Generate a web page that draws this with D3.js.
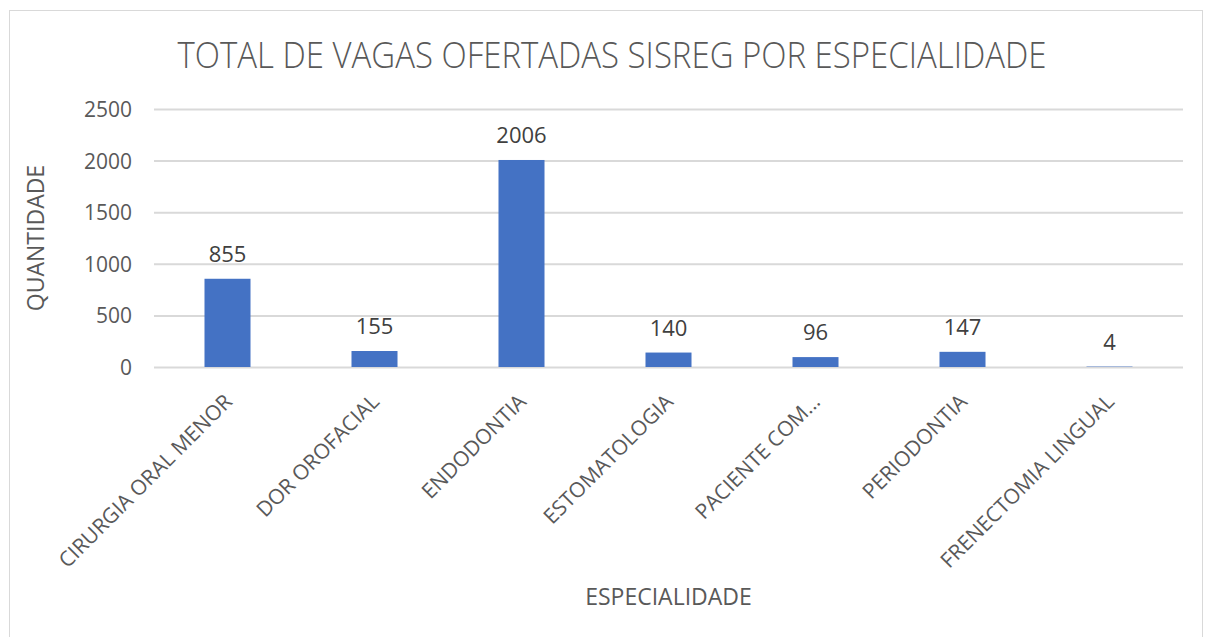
<!DOCTYPE html>
<html>
<head>
<meta charset="utf-8">
<script src="https://cdn.jsdelivr.net/npm/d3@7"></script>
<style>
  html, body { margin: 0; padding: 0; background: #fff; }
  svg { display: block; font-family: "Open Sans", "Noto Sans", sans-serif; }
</style>
</head>
<body>
<svg id="chart" width="1214" height="637"></svg>
<script>
const categories = ["CIRURGIA ORAL MENOR", "DOR OROFACIAL", "ENDODONTIA", "ESTOMATOLOGIA", "PACIENTE COM...", "PERIODONTIA", "FRENECTOMIA LINGUAL"];
const values = [855, 155, 2006, 140, 96, 147, 4];
const yTicks = [0, 500, 1000, 1500, 2000, 2500];
const title = "TOTAL DE VAGAS OFERTADAS SISREG POR ESPECIALIDADE";
const yTitle = "QUANTIDADE";
const xTitle = "ESPECIALIDADE";

const FONT = '"Open Sans", "Noto Sans", sans-serif';
const svg = d3.select("#chart");
const m = { left: 154, right: 1183, top: 109, bottom: 367 };

// outer border
svg.append("rect").attr("x", 9.5).attr("y", 10.5).attr("width", 1193).attr("height", 640)
  .attr("fill", "#fff").attr("stroke", "#d9d9d9").attr("stroke-width", 1);

const x = d3.scaleBand().domain(categories).range([m.left, m.right]).padding(0);
const y = d3.scaleLinear().domain([0, 2500]).range([m.bottom, m.top]);

// gridlines + y ticks
const gAxisY = svg.append("g").attr("transform", `translate(${m.left},0)`)
  .call(d3.axisLeft(y).tickValues(yTicks).tickSize(-(m.right - m.left)).tickPadding(22).tickFormat(d3.format("d")));
gAxisY.attr("font-family", FONT);
gAxisY.select(".domain").remove();
gAxisY.selectAll(".tick line").attr("stroke", "#d9d9d9").attr("stroke-width", 2);
gAxisY.selectAll(".tick text").attr("fill", "#595959").attr("font-size", 21).attr("dy", "0.36em");

// bars
const barFrac = 0.313;
svg.append("g").selectAll("rect").data(values).join("rect")
  .attr("x", (d, i) => x(categories[i]) + x.bandwidth() * (1 - barFrac) / 2)
  .attr("width", x.bandwidth() * barFrac)
  .attr("y", d => y(d))
  .attr("height", d => y(0) - y(d))
  .attr("fill", "#4472C4");

// value labels
svg.append("g").selectAll("text").data(values).join("text")
  .attr("x", (d, i) => x(categories[i]) + x.bandwidth() / 2)
  .attr("y", d => y(d) - 17)
  .attr("text-anchor", "middle")
  .attr("fill", "#404040")
  .attr("font-size", 22)
  .text(d => d);

// category labels
const gX = svg.append("g").attr("transform", `translate(0,${m.bottom})`)
  .call(d3.axisBottom(x).tickSize(0).tickPadding(0));
gX.attr("font-family", FONT);
gX.select(".domain").remove();
gX.selectAll(".tick text")
  .attr("fill", "#595959").attr("font-size", 21)
  .attr("text-anchor", "end")
  .attr("transform", "translate(6,36) rotate(-45)")
  .attr("dy", 0).attr("y", 0);

// titles
svg.append("text").attr("x", 612).attr("y", 68).attr("text-anchor", "middle")
  .attr("fill", "#595959").attr("font-size", 37).attr("font-weight", 300)
  .attr("textLength", 869).attr("lengthAdjust", "spacingAndGlyphs").text(title);

svg.append("text").attr("transform", `translate(44,${(m.top + m.bottom) / 2}) rotate(-90)`)
  .attr("text-anchor", "middle").attr("fill", "#595959").attr("font-size", 23).text(yTitle);

svg.append("text").attr("x", (m.left + m.right) / 2).attr("y", 605).attr("text-anchor", "middle")
  .attr("fill", "#595959").attr("font-size", 23).text(xTitle);
</script>
</body>
</html>
